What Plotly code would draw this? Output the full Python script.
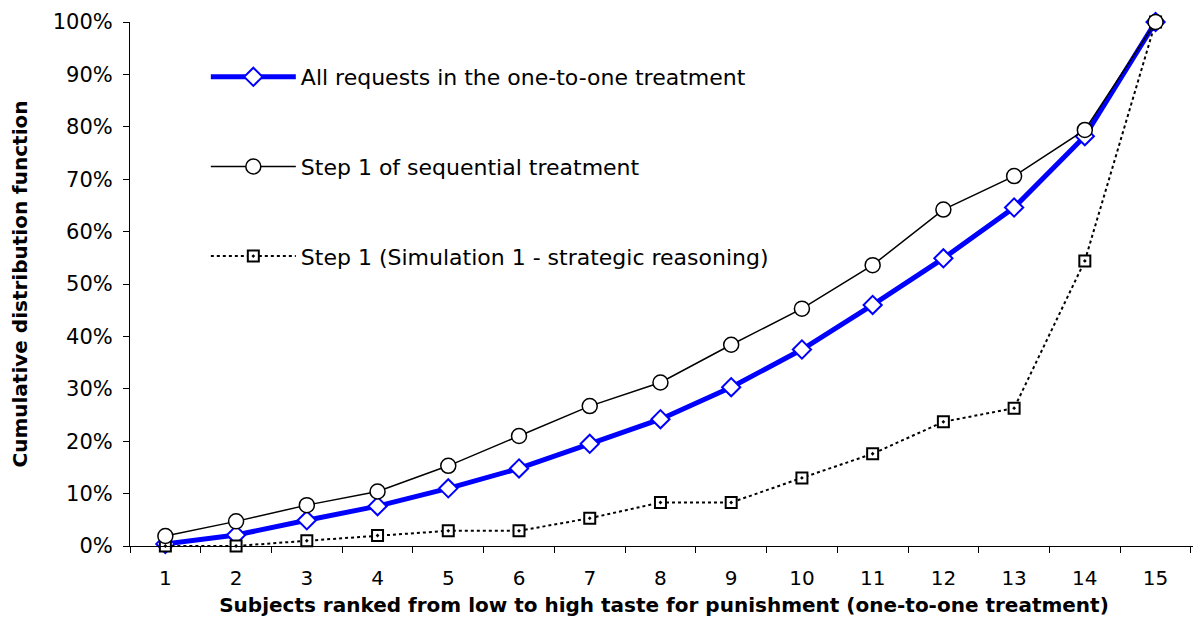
import plotly.graph_objects as go

subjects = [str(i) for i in range(1, 16)]
all_requests = [0.4, 2.1, 4.9, 7.6, 11.0, 14.8, 19.5, 24.2, 30.3, 37.5, 46.0, 54.9, 64.6, 78.2, 100.0]
step1_seq = [1.9, 4.7, 7.8, 10.4, 15.3, 21.0, 26.7, 31.2, 38.4, 45.3, 53.6, 64.2, 70.6, 79.4, 100.0]
step1_sim = [0.0, 0.0, 1.0, 2.0, 2.9, 2.9, 5.3, 8.3, 8.3, 13.0, 17.6, 23.7, 26.3, 54.4, 100.0]
y_ticks = list(range(0, 101, 10))
y_ticktext = [f"{v}%" for v in y_ticks]

FONT = "DejaVu Sans, Arial, sans-serif"

fig = go.Figure()
fig.add_trace(go.Scatter(
    x=subjects, y=all_requests, name="All requests in the one-to-one treatment",
    mode="lines+markers", legendgroup="a", legendrank=1, cliponaxis=False,
    line=dict(color="#0000FF", width=5),
    marker=dict(symbol="diamond", size=14, color="white", line=dict(color="#0000FF", width=2)),
))
fig.add_trace(go.Scatter(
    x=subjects, y=step1_sim, name="Step 1 (Simulation 1 - strategic reasoning)",
    mode="lines+markers", legendgroup="c", legendrank=3, cliponaxis=False,
    line=dict(color="black", width=2, dash="dot"),
    marker=dict(symbol="square-dot", size=11, color="white", line=dict(color="black", width=2)),
))
fig.add_trace(go.Scatter(
    x=subjects, y=step1_seq, name="Step 1 of sequential treatment",
    mode="lines+markers", legendgroup="b", legendrank=2, cliponaxis=False,
    line=dict(color="black", width=1.5),
    marker=dict(symbol="circle", size=15, color="white", line=dict(color="black", width=1.5)),
))

fig.update_layout(
    width=1201, height=622,
    paper_bgcolor="white", plot_bgcolor="white",
    margin=dict(l=122, r=11, t=14, b=84),
    font=dict(family=FONT, size=20, color="black"),
    showlegend=True,
    legend=dict(
        x=0.071, y=0.935, xanchor="left", yanchor="top",
        bgcolor="rgba(0,0,0,0)", font=dict(size=22, family=FONT),
        tracegroupgap=58, itemwidth=85,
    ),
    xaxis=dict(
        type="category", range=[-0.5, 14.6], automargin=False,
        showline=True, linecolor="black", linewidth=1,
        ticks="outside", tickson="boundaries", ticklen=6, tickcolor="black",
        showgrid=False, zeroline=False, ticklabelstandoff=14,
        tickfont=dict(size=20),
        title=dict(text="<b>Subjects ranked from low to high taste for punishment (one-to-one treatment)</b>",
                   font=dict(size=20), standoff=8),
    ),
    yaxis=dict(
        range=[0, 100], tickvals=y_ticks, ticktext=y_ticktext, automargin=False,
        showline=True, linecolor="black", linewidth=1,
        ticks="outside", ticklen=6, tickcolor="black", ticklabeloverflow="allow",
        showgrid=False, zeroline=False, ticklabelstandoff=6,
        tickfont=dict(size=21),
        title=dict(text="<b>Cumulative distribution function</b>", font=dict(size=20), standoff=34),
    ),
)

fig.write_html("out.html")
